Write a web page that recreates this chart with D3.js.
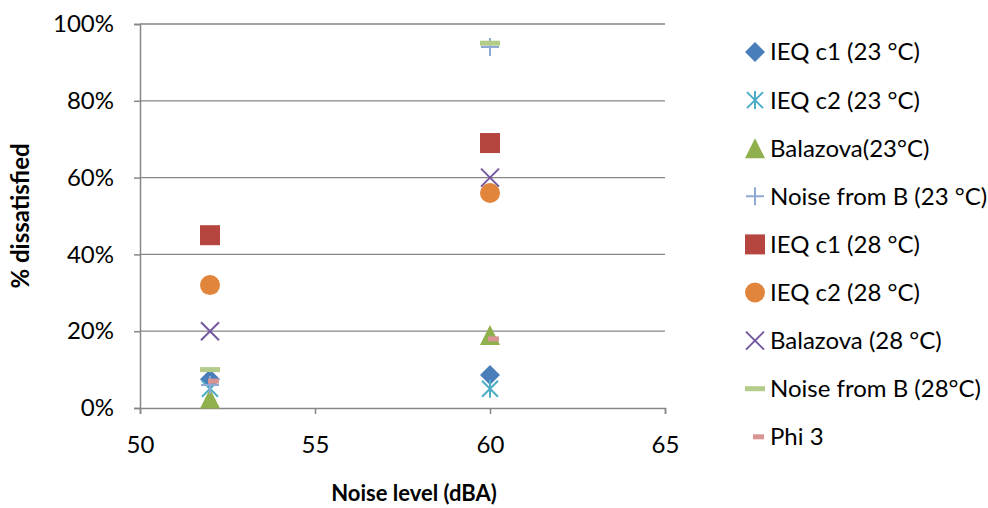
<!DOCTYPE html>
<html>
<head>
<meta charset="utf-8">
<script src="https://cdn.jsdelivr.net/npm/d3@7"></script>
<style>
  html, body { margin: 0; padding: 0; background: #fff; }
  svg { display: block; font-family: Lato, "Open Sans", sans-serif; }
</style>
</head>
<body>
<svg id="chart" width="988" height="508"></svg>
<script>
// Noise level (dBA) for each measured condition
const noiseLevels = [52, 60];

// Percentage dissatisfied per series, one value per noise level
const seriesNames = [
  "IEQ c1 (23 °C)", "IEQ c2 (23 °C)", "Balazova(23°C)", "Noise from B (23 °C)",
  "IEQ c1 (28 °C)", "IEQ c2 (28 °C)", "Balazova (28 °C)", "Noise from B (28°C)", "Phi 3"
];
const ieqC1_23 = [7.5, 8.6];
const ieqC2_23 = [5, 5];
const balazova23 = [2.5, 19];
const noiseB23 = [6, 94];
const ieqC1_28 = [45, 69];
const ieqC2_28 = [32, 56];
const balazova28 = [20, 60];
const noiseB28 = [10, 95];
const phi3 = [7, 18];

const seriesValues = [ieqC1_23, ieqC2_23, balazova23, noiseB23, ieqC1_28, ieqC2_28, balazova28, noiseB28, phi3];

// Axis ticks
const xTicks = [50, 55, 60, 65];
const yTicks = [0, 20, 40, 60, 80, 100];

// Marker shape and colour per series
const markerShapes = ["diamond", "asterisk", "triangle", "plus", "square", "circle", "cross", "dash", "shortdash"];
const markerColors = ["#4A7EBB", "#4BACC6", "#8FB04D", "#8EA9D6", "#B6453F", "#E0853B", "#7459A0", "#B3CC8A", "#D99593"];

const svg = d3.select("#chart");
const margin = { left: 140, right: 323, top: 24, bottom: 100 };
const W = 988, H = 508;

const x = d3.scaleLinear().domain([50, 65]).range([margin.left, W - margin.right]);
const y = d3.scaleLinear().domain([0, 100]).range([H - margin.bottom, margin.top]);

const axisColor = "#868686";
const gridColor = "#868686";
const textColor = "#000";

// Horizontal gridlines
svg.append("g")
  .selectAll("line")
  .data(yTicks.filter(t => t > 0))
  .join("line")
  .attr("x1", x(50)).attr("x2", x(65))
  .attr("y1", d => y(d)).attr("y2", d => y(d))
  .attr("stroke", gridColor).attr("stroke-width", 1.3);

// Y axis
const yAxis = svg.append("g")
  .attr("transform", `translate(${x(50)},0)`)
  .call(d3.axisLeft(y).tickValues(yTicks).tickFormat(d => d + "%").tickSize(6).tickPadding(20));
// X axis
const xAxis = svg.append("g")
  .attr("transform", `translate(0,${y(0)})`)
  .call(d3.axisBottom(x).tickValues(xTicks).tickFormat(d3.format("d")).tickSize(6).tickPadding(22));

[yAxis, xAxis].forEach(g => {
  g.select(".domain").attr("stroke", axisColor).attr("stroke-width", 1.5);
  g.selectAll(".tick line").attr("stroke", axisColor).attr("stroke-width", 1.5);
  g.selectAll(".tick text")
    .attr("fill", textColor)
    .style("font-size", "24px")
    .style("font-family", "Lato, 'Open Sans', sans-serif");
});

// Axis titles
svg.append("text")
  .attr("x", 414).attr("y", 501)
  .attr("text-anchor", "middle")
  .style("font-size", "22px").style("font-weight", "bold")
  .text("Noise level (dBA)");
svg.append("text")
  .attr("transform", "translate(29,216) rotate(-90)")
  .attr("text-anchor", "middle")
  .style("font-size", "24px").style("font-weight", "bold")
  .text("% dissatisfied");

// Draw a marker of the given shape centred at the group origin
function drawMarker(g, shape, color) {
  const s = 10;
  switch (shape) {
    case "diamond":
      g.append("path").attr("d", `M0,${-s}L${s},0L0,${s}L${-s},0Z`).attr("fill", color);
      break;
    case "square":
      g.append("rect").attr("x", -s).attr("y", -s).attr("width", 2 * s).attr("height", 2 * s).attr("fill", color);
      break;
    case "circle":
      g.append("circle").attr("r", s).attr("fill", color);
      break;
    case "triangle":
      g.append("path").attr("d", `M0,${-s}L${s},${s}L${-s},${s}Z`).attr("fill", color);
      break;
    case "cross":
      g.append("path").attr("d", `M-9,-9L9,9M-9,9L9,-9`).attr("stroke", color).attr("stroke-width", 2).attr("fill", "none");
      break;
    case "plus":
      g.append("path").attr("d", `M-9,0L9,0M0,-9L0,9`).attr("stroke", color).attr("stroke-width", 2).attr("fill", "none");
      break;
    case "asterisk":
      g.append("path").attr("d", `M-8,-8L8,8M-8,8L8,-8M0,-9L0,9`).attr("stroke", color).attr("stroke-width", 2).attr("fill", "none");
      break;
    case "dash":
      g.append("rect").attr("x", -s).attr("y", -2.5).attr("width", 2 * s).attr("height", 5).attr("fill", color);
      break;
    case "shortdash":
      g.append("rect").attr("x", -2).attr("y", -2.5).attr("width", 11).attr("height", 5).attr("fill", color);
      break;
  }
}

// Data points, drawn series by series
const plot = svg.append("g");
seriesValues.forEach((vals, i) => {
  vals.forEach((v, j) => {
    const g = plot.append("g").attr("transform", `translate(${x(noiseLevels[j])},${y(v)})`);
    drawMarker(g, markerShapes[i], markerColors[i]);
  });
});

// Legend
const legend = svg.append("g");
seriesNames.forEach((name, i) => {
  const ly = 52 + i * 48.1;
  const g = legend.append("g").attr("transform", `translate(755,${ly})`);
  drawMarker(g, markerShapes[i], markerColors[i]);
  legend.append("text")
    .attr("x", 770).attr("y", ly)
    .attr("dy", "0.35em")
    .style("font-size", "24px")
    .attr("fill", textColor)
    .text(name);
});
</script>
</body>
</html>
